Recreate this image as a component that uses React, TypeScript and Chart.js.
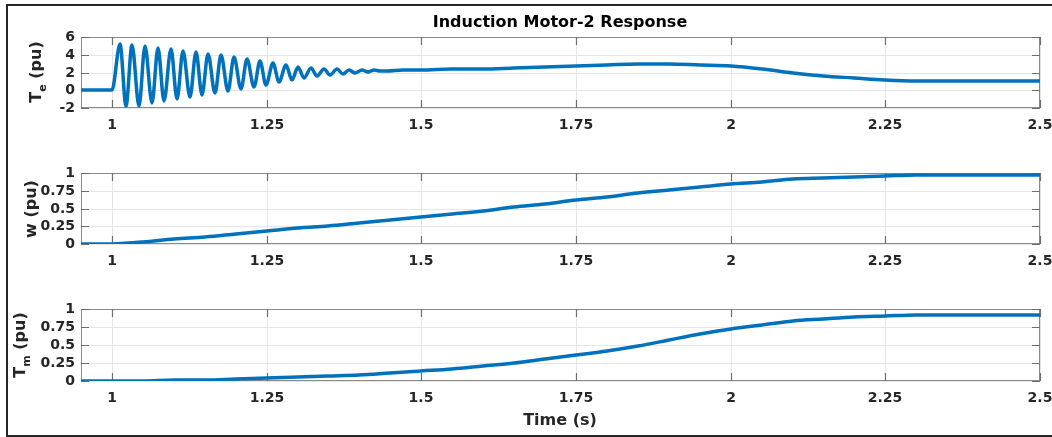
import React, { useEffect, useRef } from "react";
import { Chart, registerables } from "chart.js";

Chart.register(...registerables);

// ---- Data ----
const xTicks = [1, 1.25, 1.5, 1.75, 2, 2.25, 2.5];
const teTicks = [-2, 0, 2, 4, 6];
const puTicks = [0, 0.25, 0.5, 0.75, 1];

const teTime = [
  0.95, 1.0,
  1.013, 1.023, 1.033, 1.043, 1.054, 1.064, 1.074, 1.084, 1.095, 1.105,
  1.115, 1.126, 1.136, 1.146, 1.156, 1.167, 1.177, 1.187, 1.198, 1.208,
  1.219, 1.229, 1.239, 1.249, 1.26, 1.27, 1.281, 1.291, 1.301, 1.311,
  1.322, 1.332, 1.342, 1.352, 1.363, 1.373, 1.383, 1.393, 1.404, 1.414,
  1.424, 1.434,
  1.445, 1.47,
  1.5, 1.55, 1.6, 1.65, 1.7, 1.75, 1.8, 1.85, 1.9, 1.95, 2.0, 2.05, 2.1,
  2.15, 2.2, 2.25, 2.3, 2.35, 2.4, 2.45, 2.5,
];
const teValue = [
  0, 0,
  5.25, -1.8, 5.15, -1.75, 4.95, -1.45, 4.8, -1.2, 4.6, -0.95,
  4.45, -0.72, 4.3, -0.5, 4.1, -0.3, 3.95, -0.1, 3.75, 0.15,
  3.55, 0.4, 3.3, 0.6, 3.1, 0.9, 2.85, 1.15, 2.65, 1.35,
  2.5, 1.55, 2.42, 1.72, 2.36, 1.85, 2.32, 1.98, 2.3, 2.08,
  2.27, 2.16,
  2.21, 2.24,
  2.28, 2.34, 2.42, 2.52, 2.65, 2.78, 2.88, 2.95, 2.97, 2.9, 2.73, 2.4, 1.98,
  1.61, 1.33, 1.17, 1.08, 1.04, 1.02, 1.0, 0.99,
];

const wTime = [
  0.95, 1.0, 1.05, 1.1, 1.15, 1.2, 1.25, 1.3, 1.35, 1.4, 1.45, 1.5, 1.55,
  1.6, 1.65, 1.7, 1.75, 1.8, 1.85, 1.9, 1.95, 2.0, 2.05, 2.1, 2.15, 2.2,
  2.25, 2.3, 2.35, 2.4, 2.45, 2.5,
];
const wValue = [
  0, 0, 0.028, 0.064, 0.102, 0.141, 0.18, 0.22, 0.26, 0.3, 0.341, 0.383,
  0.426, 0.471, 0.518, 0.566, 0.615, 0.664, 0.713, 0.76, 0.804, 0.845, 0.88,
  0.91, 0.932, 0.948, 0.959, 0.966, 0.97, 0.973, 0.975, 0.976,
];

const tmTime = [
  0.95, 1.0, 1.05, 1.1, 1.15, 1.2, 1.25, 1.3, 1.35, 1.4, 1.45, 1.5, 1.55,
  1.6, 1.65, 1.7, 1.75, 1.8, 1.85, 1.9, 1.95, 2.0, 2.05, 2.1, 2.15, 2.2,
  2.25, 2.3, 2.35, 2.4, 2.45, 2.5,
];
const tmValue = [
  0, 0, 0.003, 0.008, 0.015, 0.024, 0.036, 0.05, 0.067, 0.087, 0.111, 0.139,
  0.171, 0.208, 0.251, 0.3, 0.356, 0.42, 0.492, 0.57, 0.65, 0.723, 0.783,
  0.83, 0.865, 0.888, 0.902, 0.91, 0.914, 0.916, 0.917, 0.918,
];

// ---- Styles ----
const LINE = "#0072BD";
const FONT = "'DejaVu Sans', sans-serif";
const TEXT = "#262626";
const CANVAS_W = 1090;

const boxPlugin = {
  id: "matlabBox",
  beforeDatasetsDraw(chart: any) {
    const { ctx, chartArea: a, scales } = chart;
    ctx.save();
    ctx.strokeStyle = "#8a8a8a";
    ctx.lineWidth = 1;
    ctx.strokeRect(a.left + 0.5, a.top + 0.5, a.right - a.left - 1, a.bottom - a.top - 1);
    ctx.strokeStyle = "#6e6e6e";
    ctx.lineWidth = 1.2;
    const len = 8;
    ctx.beginPath();
    for (const t of scales.x.ticks) {
      const px = Math.round(scales.x.getPixelForValue(t.value)) + 0.5;
      ctx.moveTo(px, a.bottom);
      ctx.lineTo(px, a.bottom - len);
      ctx.moveTo(px, a.top);
      ctx.lineTo(px, a.top + len);
    }
    for (const t of scales.y.ticks) {
      const py = Math.round(scales.y.getPixelForValue(t.value)) + 0.5;
      ctx.moveTo(a.left, py);
      ctx.lineTo(a.left + len, py);
      ctx.moveTo(a.right, py);
      ctx.lineTo(a.right - len, py);
    }
    ctx.stroke();
    ctx.restore();
  },
};

type PanelProps = {
  top: number;
  plotHeight: number;
  times: number[];
  values: number[];
  yMin: number;
  yMax: number;
  yTicks: number[];
  monotone?: boolean;
};

const PAD_TOP = 20;
const X_AXIS_H = 30;

function Panel({ top, plotHeight, times, values, yMin, yMax, yTicks, monotone }: PanelProps) {
  const ref = useRef<HTMLCanvasElement>(null);
  const height = PAD_TOP + plotHeight + X_AXIS_H;
  useEffect(() => {
    const data = times.map((t, i) => ({ x: t, y: values[i] }));
    const tickFont = { family: FONT, size: 14, weight: "bold" as const };
    const chart = new Chart(ref.current as HTMLCanvasElement, {
      type: "line",
      data: {
        datasets: [
          {
            data,
            borderColor: LINE,
            borderWidth: 3.5,
            pointRadius: 0,
            fill: false,
            cubicInterpolationMode: monotone ? "monotone" : "default",
            tension: monotone ? 0 : 0.35,
            borderCapStyle: "round",
            borderJoinStyle: "round",
          },
        ],
      },
      options: {
        animation: false,
        responsive: false,
        maintainAspectRatio: false,
        devicePixelRatio: 1,
        layout: { padding: { top: PAD_TOP, right: CANVAS_W - 1040, bottom: 0, left: 0 } },
        plugins: {
          legend: { display: false },
          tooltip: { enabled: false },
          title: { display: false },
        },
        scales: {
          x: {
            type: "linear",
            min: 0.95,
            max: 2.5,
            alignToPixels: true,
            afterBuildTicks: (s: any) => {
              s.ticks = xTicks.map((v) => ({ value: v }));
            },
            afterFit: (s: any) => {
              s.height = X_AXIS_H;
            },
            ticks: {
              font: tickFont,
              color: TEXT,
              padding: 9,
              autoSkip: false,
              maxRotation: 0,
              callback: (v: any) => String(v),
            },
            grid: { color: "#e6e6e6", lineWidth: 1, drawTicks: false },
            border: { display: false },
          },
          y: {
            type: "linear",
            min: yMin,
            max: yMax,
            alignToPixels: true,
            afterBuildTicks: (s: any) => {
              s.ticks = yTicks.map((v) => ({ value: v }));
            },
            afterFit: (s: any) => {
              s.width = 81;
            },
            ticks: {
              font: tickFont,
              color: TEXT,
              padding: 6,
              autoSkip: false,
              callback: (v: any) => String(v),
            },
            grid: { color: "#e6e6e6", lineWidth: 1, drawTicks: false },
            border: { display: false },
          },
        },
      },
      plugins: [boxPlugin],
    } as any);
    return () => chart.destroy();
  }, []);
  return (
    <canvas
      ref={ref}
      width={CANVAS_W}
      height={height}
      style={{ position: "absolute", left: 0, top: top - PAD_TOP, width: CANVAS_W, height }}
    />
  );
}

const labelBase: React.CSSProperties = {
  position: "absolute",
  fontFamily: FONT,
  fontWeight: "bold",
  fontSize: 16,
  lineHeight: "16px",
  whiteSpace: "nowrap",
  color: TEXT,
};

function YLabel({ cx, cy, main, sub }: { cx: number; cy: number; main: string; sub?: string }) {
  return (
    <div
      style={{
        ...labelBase,
        left: cx,
        top: cy,
        transform: "translate(-50%, -50%) rotate(-90deg)",
      }}
    >
      {main}
      {sub ? (
        <span style={{ fontSize: 11, position: "relative", top: 5 }}>{sub}</span>
      ) : null}
      {" (pu)"}
    </div>
  );
}

export default function App() {
  return (
    <div
      style={{
        position: "fixed",
        left: 0,
        top: 0,
        width: 1052,
        height: 437,
        overflow: "hidden",
        background: "#ffffff",
      }}
    >
      <div
        style={{
          position: "absolute",
          left: 6,
          top: 4,
          width: 1200,
          height: 433,
          border: "2px solid #262626",
          boxSizing: "border-box",
        }}
      />
      <Panel top={37} plotHeight={71} times={teTime} values={teValue} yMin={-2} yMax={6} yTicks={teTicks} monotone />
      <Panel top={173} plotHeight={71} times={wTime} values={wValue} yMin={0} yMax={1} yTicks={puTicks} />
      <Panel top={309} plotHeight={72} times={tmTime} values={tmValue} yMin={0} yMax={1} yTicks={puTicks} />
      <div
        style={{
          ...labelBase,
          color: "#000",
          left: 560,
          top: 22,
          transform: "translate(-50%, -50%)",
        }}
      >
        Induction Motor-2 Response
      </div>
      <YLabel cx={37} cy={72} main="T" sub="e" />
      <YLabel cx={31} cy={209} main="w" />
      <YLabel cx={21} cy={345} main="T" sub="m" />
      <div
        style={{
          ...labelBase,
          left: 560,
          top: 420,
          transform: "translate(-50%, -50%)",
        }}
      >
        Time (s)
      </div>
    </div>
  );
}
